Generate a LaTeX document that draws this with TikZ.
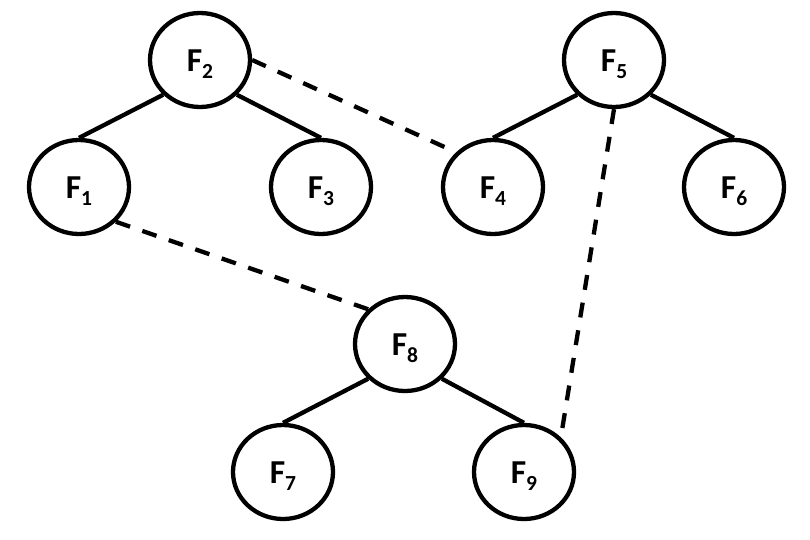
\documentclass[tikz,border=0pt]{standalone}
\usepackage{fontspec}
\setmainfont{Carlito}
\usetikzlibrary{shapes.geometric}
\newcommand{\fsub}[1]{{\bfseries\fontsize{33.5}{40}\selectfont F\raisebox{-7.4pt}{\fontsize{21.5}{26}\selectfont #1}}}
\tikzset{
  fnode/.style={draw=black, line width=4.3pt, ellipse, minimum width=100pt, minimum height=94pt,
    inner sep=0pt, text height=22pt, text depth=0pt, align=center},
  tree/.style={draw=black, line width=4.3pt},
  link/.style={draw=black, line width=4.3pt, dash pattern=on 15pt off 13pt}
}
\begin{document}
\begin{tikzpicture}[x=1pt,y=-1pt]
\useasboundingbox (0,0) rectangle (810,539);
\node[fnode] (F2) at (200,60) {\fsub{2}};
\node[fnode] (F5) at (614,60) {\fsub{5}};
\node[fnode] (F1) at (79,187) {\fsub{1}};
\node[fnode] (F3) at (321,187) {\fsub{3}};
\node[fnode] (F4) at (493,187) {\fsub{4}};
\node[fnode] (F6) at (734,187) {\fsub{6}};
\node[fnode] (F8) at (405,344) {\fsub{8}};
\node[fnode] (F7) at (283,472) {\fsub{7}};
\node[fnode] (F9) at (524,472) {\fsub{9}};
\draw[tree] (F2.south west) -- (F1.north);
\draw[tree] (F2.south east) -- (F3.north);
\draw[tree] (F5.south west) -- (F4.north);
\draw[tree] (F5.south east) -- (F6.north);
\draw[tree] (F8.south west) -- (F7.north);
\draw[tree] (F8.south east) -- (F9.north);
\draw[link] (F2.east) -- (F4.north west);
\draw[link] (F1.south east) -- (F8.north west);
\draw[link] (F5.south) -- (F9.north east);
\end{tikzpicture}
\end{document}
